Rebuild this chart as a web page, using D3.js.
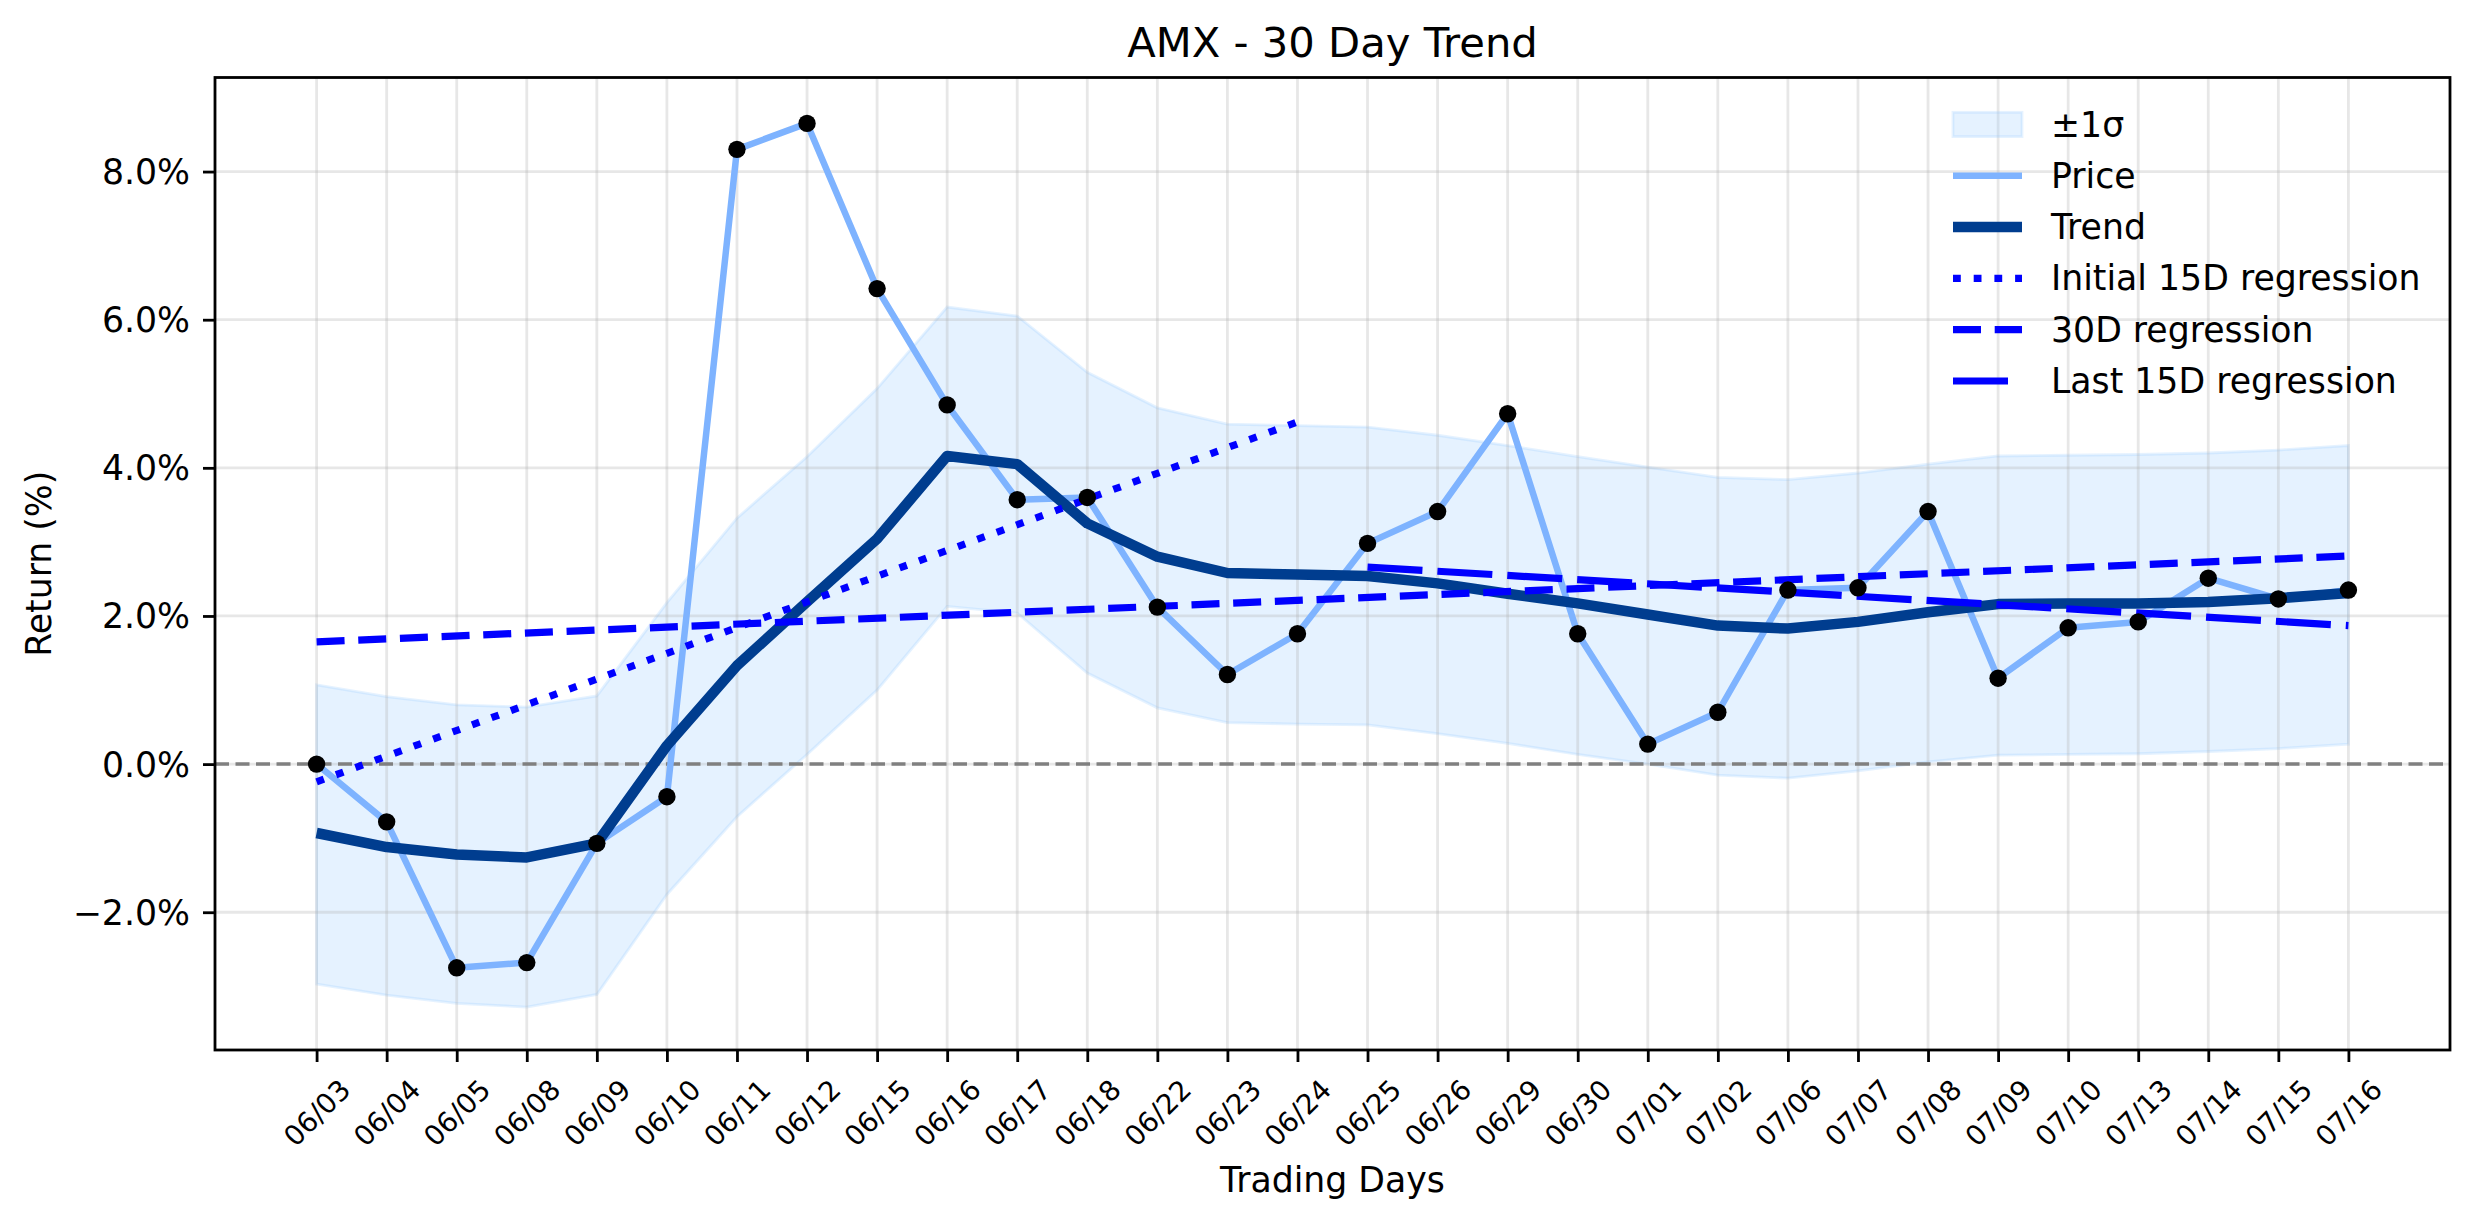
<!DOCTYPE html>
<html>
<head>
<meta charset="utf-8">
<script src="https://cdn.jsdelivr.net/npm/d3@7"></script>
<style>
body { margin: 0; background: #fff; }
text { font-family: "DejaVu Sans", sans-serif; fill: #000; }
</style>
</head>
<body>
<script>
// Width and height of svg
var w = 2474;
var h = 1224;

// Trading days (x axis labels)
var dates = ["06/03","06/04","06/05","06/08","06/09","06/10","06/11","06/12","06/15","06/16",
             "06/17","06/18","06/22","06/23","06/24","06/25","06/26","06/29","06/30","07/01",
             "07/02","07/06","07/07","07/08","07/09","07/10","07/13","07/14","07/15","07/16"];

// Cumulative return in %
var price = [0.00, -0.78, -2.75, -2.68, -1.07, -0.44, 8.30, 8.65, 6.42, 4.85,
             3.57, 3.60, 2.12, 1.21, 1.76, 2.98, 3.41, 4.73, 1.76, 0.27,
             0.70, 2.35, 2.38, 3.41, 1.16, 1.84, 1.92, 2.51, 2.23, 2.35];

var trend = [-0.93, -1.12, -1.22, -1.26, -1.07, 0.25, 1.33, 2.19, 3.04, 4.16,
             4.05, 3.25, 2.80, 2.58, 2.56, 2.54, 2.44, 2.30, 2.17, 2.02,
             1.87, 1.83, 1.92, 2.05, 2.16, 2.17, 2.17, 2.19, 2.24, 2.31];

// +/- 1 sigma band
var upper = [1.07, 0.91, 0.80, 0.77, 0.92, 2.18, 3.32, 4.15, 5.07, 6.17,
             6.05, 5.29, 4.81, 4.59, 4.57, 4.55, 4.44, 4.30, 4.15, 4.01,
             3.87, 3.84, 3.93, 4.05, 4.16, 4.17, 4.18, 4.20, 4.24, 4.30];

var lower = [-2.97, -3.12, -3.23, -3.28, -3.11, -1.76, -0.71, 0.13, 1.00, 2.13,
             2.04, 1.23, 0.76, 0.56, 0.54, 0.53, 0.41, 0.28, 0.13, 0.00,
             -0.15, -0.19, -0.09, 0.03, 0.12, 0.13, 0.14, 0.17, 0.21, 0.27];

// Regression lines: [day index, value] at both ends
var regInitial = [[0, -0.24], [14, 4.62]];
var reg30 = [[0, 1.65], [29, 2.81]];
var regLast = [[15, 2.66], [29, 1.87]];

var yTicks = [-2, 0, 2, 4, 6, 8];

var legendLabels = ["±1σ", "Price", "Trend", "Initial 15D regression", "30D regression", "Last 15D regression"];

// Plot area (window.top is read-only, so no "top" variable here)
var plotL = 215, plotR = 2450, plotT = 77.5, plotB = 1050;

var x = d3.scaleLinear()
    .domain([-1.45, dates.length - 1 + 1.45])
    .range([plotL, plotR]);

var y = d3.scaleLinear()
    .domain([-3.86, 9.27])
    .range([plotB, plotT]);

//Create SVG element
var svg = d3.select("body")
        .append("svg")
        .attr("width", w)
        .attr("height", h);

svg.append("rect").attr("width", w).attr("height", h).attr("fill", "#fff");

var idx = d3.range(dates.length);

// sigma band
var area = d3.area()
    .x(function(i) { return x(i); })
    .y0(function(i) { return y(lower[i]); })
    .y1(function(i) { return y(upper[i]); });

svg.append("path")
    .datum(idx)
    .attr("d", area)
    .attr("fill", "#99ccff")
    .attr("fill-opacity", 0.25)
    .attr("stroke", "#99ccff")
    .attr("stroke-opacity", 0.25)
    .attr("stroke-width", 2.8);

// grid lines
svg.selectAll(".vgrid")
    .data(idx)
    .enter().append("line")
    .attr("class", "vgrid")
    .attr("x1", function(i) { return x(i); })
    .attr("x2", function(i) { return x(i); })
    .attr("y1", plotT)
    .attr("y2", plotB)
    .attr("stroke", "#b0b0b0")
    .attr("stroke-opacity", 0.3)
    .attr("stroke-width", 2.8);

svg.selectAll(".hgrid")
    .data(yTicks)
    .enter().append("line")
    .attr("class", "hgrid")
    .attr("x1", plotL)
    .attr("x2", plotR)
    .attr("y1", function(d) { return y(d); })
    .attr("y2", function(d) { return y(d); })
    .attr("stroke", "#b0b0b0")
    .attr("stroke-opacity", 0.3)
    .attr("stroke-width", 2.8);

// zero line
svg.append("line")
    .attr("x1", plotL)
    .attr("x2", plotR)
    .attr("y1", y(0))
    .attr("y2", y(0))
    .attr("stroke", "#808080")
    .attr("stroke-width", 3.5)
    .attr("stroke-dasharray", "14,6.5");

var line = d3.line()
    .x(function(i) { return x(i); });

// price line
svg.append("path")
    .datum(idx)
    .attr("d", line.y(function(i) { return y(price[i]); }))
    .attr("fill", "none")
    .attr("stroke", "#7eb3ff")
    .attr("stroke-width", 6.5)
    .attr("stroke-linejoin", "round");

// trend line
svg.append("path")
    .datum(idx)
    .attr("d", line.y(function(i) { return y(trend[i]); }))
    .attr("fill", "none")
    .attr("stroke", "#003d8f")
    .attr("stroke-width", 10.5)
    .attr("stroke-linejoin", "round");

// regression lines
var regLine = d3.line()
    .x(function(d) { return x(d[0]); })
    .y(function(d) { return y(d[1]); });

var regs = [
    { pts: regInitial, dash: "7.8,12.9" },
    { pts: reg30, dash: "28,13.7" },
    { pts: regLast, dash: "55,15" }
];

regs.forEach(function(r) {
    svg.append("path")
        .attr("d", regLine(r.pts))
        .attr("fill", "none")
        .attr("stroke", "#0000ff")
        .attr("stroke-width", 7.2)
        .attr("stroke-dasharray", r.dash);
});

// price markers
svg.selectAll(".dot")
    .data(idx)
    .enter().append("circle")
    .attr("class", "dot")
    .attr("cx", function(i) { return x(i); })
    .attr("cy", function(i) { return y(price[i]); })
    .attr("r", 8.7)
    .attr("fill", "#000");

// x axis
var gx = svg.append("g")
    .attr("transform", "translate(0," + plotB + ")")
    .call(d3.axisBottom(x)
        .tickValues(idx)
        .tickFormat(function(i) { return dates[i]; })
        .tickSize(12));
gx.select(".domain").remove();
gx.selectAll(".tick line").attr("stroke", "#000").attr("stroke-width", 2.8);
gx.selectAll(".tick text")
    .attr("y", null)
    .attr("dy", null)
    .attr("font-size", 27.8)
    .attr("font-family", "DejaVu Sans")
    .attr("text-anchor", "middle")
    .attr("dominant-baseline", "central")
    .attr("transform", "translate(0,63) rotate(-45)");

// y axis
var gy = svg.append("g")
    .attr("transform", "translate(" + plotL + ",0)")
    .call(d3.axisLeft(y)
        .tickValues(yTicks)
        .tickFormat(function(d) { return (d < 0 ? "\u2212" : "") + Math.abs(d).toFixed(1) + "%"; })
        .tickSize(12)
        .tickPadding(13));
gy.select(".domain").remove();
gy.selectAll(".tick line").attr("stroke", "#000").attr("stroke-width", 2.8);
gy.selectAll(".tick text")
    .attr("font-size", 34.7)
    .attr("font-family", "DejaVu Sans")
    .attr("dy", null)
    .attr("dominant-baseline", "central");

// frame
svg.append("rect")
    .attr("x", plotL)
    .attr("y", plotT)
    .attr("width", plotR - plotL)
    .attr("height", plotB - plotT)
    .attr("fill", "none")
    .attr("stroke", "#000")
    .attr("stroke-width", 2.8);

// title and axis labels
svg.append("text")
    .attr("x", (plotL + plotR) / 2)
    .attr("y", 57)
    .attr("text-anchor", "middle")
    .attr("font-size", 41.7)
    .text("AMX - 30 Day Trend");

svg.append("text")
    .attr("x", (plotL + plotR) / 2)
    .attr("y", 1192)
    .attr("text-anchor", "middle")
    .attr("font-size", 34.7)
    .text("Trading Days");

svg.append("text")
    .attr("transform", "translate(39," + (plotT + plotB) / 2 + ") rotate(-90)")
    .attr("text-anchor", "middle")
    .attr("dominant-baseline", "central")
    .attr("font-size", 34.7)
    .text("Return (%)");

// legend
var lx = 1953, lw = 69, ly = 124.5, lstep = 51.3;
var lg = svg.append("g").attr("class", "legend");

lg.append("rect")
    .attr("x", lx)
    .attr("y", ly - 12.2)
    .attr("width", lw)
    .attr("height", 24.3)
    .attr("fill", "#99ccff")
    .attr("fill-opacity", 0.25)
    .attr("stroke", "#99ccff")
    .attr("stroke-opacity", 0.25)
    .attr("stroke-width", 2.8);

var legendLines = [
    null,
    { color: "#7eb3ff", width: 6.5, dash: null },
    { color: "#003d8f", width: 10.5, dash: null },
    { color: "#0000ff", width: 7.2, dash: "7.8,12.9" },
    { color: "#0000ff", width: 7.2, dash: "28,13.7" },
    { color: "#0000ff", width: 7.2, dash: "55,15" }
];

legendLines.forEach(function(s, i) {
    if (!s) return;
    lg.append("line")
        .attr("x1", lx)
        .attr("x2", lx + lw)
        .attr("y1", ly + i * lstep)
        .attr("y2", ly + i * lstep)
        .attr("stroke", s.color)
        .attr("stroke-width", s.width)
        .attr("stroke-dasharray", s.dash);
});

lg.selectAll("text")
    .data(legendLabels)
    .enter().append("text")
    .attr("x", 2051)
    .attr("y", function(d, i) { return ly + i * lstep; })
    .attr("dominant-baseline", "central")
    .attr("font-size", 34.7)
    .text(function(d) { return d; });
</script>
</body>
</html>
